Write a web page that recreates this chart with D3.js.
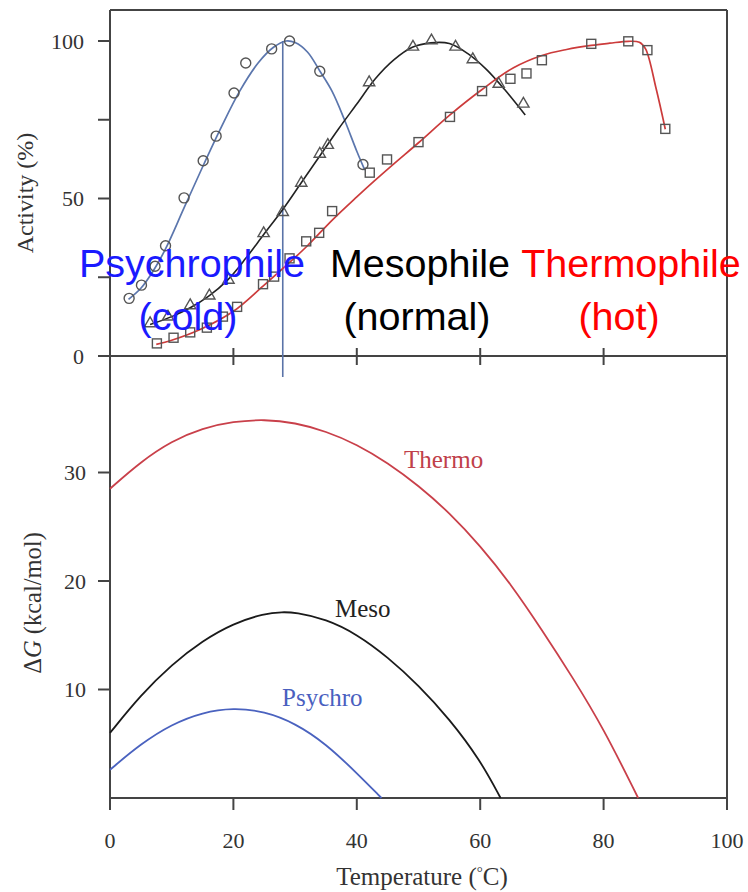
<!DOCTYPE html>
<html><head><meta charset="utf-8">
<script src="https://cdn.jsdelivr.net/npm/d3@7"></script>
<style>
html,body{margin:0;padding:0;background:#fff;}
svg{display:block;}
</style></head>
<body>
<svg id="chart" width="748" height="892"></svg>
<script>
// ---------- Data ----------
// Top panel: measured activity (%) vs temperature (°C)
const psychroT = [3.1, 5.1, 7.3, 9.0, 12.0, 15.1, 17.2, 20.1, 22.0, 26.2, 29.1, 34.0, 41.0];
const psychroA = [18.3, 22.5, 28.5, 35.0, 50.2, 62.0, 69.8, 83.5, 93.0, 97.5, 100.0, 90.4, 60.8];
const mesoT = [6.5, 9.4, 13.0, 16.1, 19.2, 24.9, 28.0, 31.0, 34.0, 35.3, 42.0, 49.1, 52.1, 56.0, 58.8, 63.0, 67.0];
const mesoA = [10.5, 12.6, 16.2, 19.3, 24.3, 39.1, 45.8, 55.1, 64.3, 67.1, 87.0, 98.3, 100.3, 98.3, 94.3, 86.5, 80.2];
const thermoT = [7.6, 10.3, 13.0, 15.7, 18.3, 20.6, 24.8, 26.6, 29.1, 31.8, 33.9, 36.0, 42.1, 44.9, 50.0, 55.1, 60.3, 64.9, 67.5, 70.0, 78.0, 84.0, 87.1, 90.0];
const thermoA = [4.0, 5.8, 7.5, 9.0, 12.5, 15.6, 22.8, 25.2, 31.0, 36.4, 39.1, 46.0, 58.2, 62.4, 67.9, 75.9, 84.1, 88.0, 89.7, 93.9, 99.1, 99.9, 97.1, 72.1];

// Top panel: fitted curves
const psychroFitT = [3, 5, 7, 9, 12, 15, 18, 21, 24, 26.5, 28.5, 30, 32, 34, 36, 38, 40, 41.3];
const psychroFitA = [18, 21.5, 27, 34, 47, 60, 72.5, 84, 93, 98, 100, 99.5, 96.5, 90.5, 84, 75, 65, 59];
const mesoFitT = [6.5, 10, 13, 16, 19, 22, 25, 28, 31, 34, 37, 40, 43, 46, 49, 52, 55, 58, 61, 64, 67.3];
const mesoFitA = [10, 12.5, 15.3, 19, 24, 31, 38.8, 46.5, 55, 63.5, 72, 80, 88, 94, 98, 99.4, 99.2, 96, 91, 84.5, 76.5];
const thermoFitT = [7.5, 10, 14.6, 20, 24.8, 29.1, 32, 36.1, 40, 42.8, 46, 50, 55.2, 60.3, 65.4, 70, 74, 78, 81, 84, 85.8, 86.8, 88.5, 90];
const thermoFitA = [3.7, 5.0, 8.4, 14.2, 22.2, 29.7, 35, 43.3, 50.5, 55.5, 61, 67.7, 76.7, 84.6, 91.5, 95.4, 97.3, 98.6, 99.3, 99.9, 99.6, 97.5, 85, 72];

const optimumPsychroT = 28;

// Bottom panel: stability ΔG (kcal/mol) vs temperature
const dgThermoT = [0, 5, 10, 15, 20, 25, 30, 35, 40, 45, 50, 55, 60, 65, 70, 75, 80, 85.6];
const dgThermo  = [28.5, 31.0, 32.9, 34.1, 34.7, 34.9, 34.6, 33.8, 32.6, 30.9, 28.8, 26.3, 23.25, 19.7, 15.5, 11.1, 6.4, 0];
const dgMesoT = [0, 5, 10, 15, 20, 25, 28, 30, 35, 40, 45, 50, 55, 60, 63.3];
const dgMeso  = [6.0, 9.5, 12.3, 14.5, 16.1, 17.0, 17.15, 17.1, 16.5, 15.1, 13.0, 10.4, 7.3, 3.5, 0];
const dgPsychroT = [0, 5, 10, 15, 20, 25, 30, 35, 40, 44];
const dgPsychro  = [2.6, 5.0, 6.8, 7.9, 8.3, 8.0, 6.9, 5.0, 2.3, 0];

// Axis ticks / labels
const xTicks = [0, 20, 40, 60, 80, 100];
const topYTicks = [0, 25, 50, 75, 100];
const topYLabels = [0, 50, 100];
const botYTicks = [10, 20, 30];

// ---------- Drawing ----------
const svg = d3.select("#chart");
const serif = "'Liberation Serif', 'DejaVu Serif', serif";
const sans = "'Liberation Sans', Arial, sans-serif";
const axisCol = "#444";

const x = d3.scaleLinear().domain([0, 100]).range([110, 727]);
const yTop = d3.scaleLinear().domain([0, 100]).range([356, 41]);
const yBot = d3.scaleLinear().domain([0, 10]).range([798, 689.5]);

// Frame lines
const frame = svg.append("g").attr("stroke", axisCol).attr("stroke-width", 2).attr("fill", "none");
frame.append("line").attr("x1", x(0)).attr("x2", x(0)).attr("y1", 10).attr("y2", 810);
frame.append("line").attr("x1", x(100)).attr("x2", x(100)).attr("y1", 10).attr("y2", 810);
frame.append("line").attr("x1", x(0)).attr("x2", x(100)).attr("y1", 10).attr("y2", 10);
frame.append("line").attr("x1", 98).attr("x2", x(100)).attr("y1", yTop(0)).attr("y2", yTop(0));
frame.append("line").attr("x1", x(0)).attr("x2", x(100)).attr("y1", yBot(0)).attr("y2", yBot(0));

// Top panel x ticks (crossing)
frame.selectAll(".tx").data(xTicks.filter(d => d > 0 && d < 100)).enter().append("line")
  .attr("x1", d => x(d)).attr("x2", d => x(d)).attr("y1", yTop(0) - 8).attr("y2", yTop(0) + 9);
// Top y ticks
frame.selectAll(".ty").data(topYTicks).enter().append("line")
  .attr("x1", 98).attr("x2", x(0)).attr("y1", d => yTop(d)).attr("y2", d => yTop(d));
// Bottom x ticks
frame.selectAll(".bx").data(xTicks).enter().append("line")
  .attr("x1", d => x(d)).attr("x2", d => x(d)).attr("y1", yBot(0)).attr("y2", yBot(0) + 12);
// Bottom y ticks
frame.selectAll(".by").data(botYTicks).enter().append("line")
  .attr("x1", 98).attr("x2", x(0)).attr("y1", d => yBot(d)).attr("y2", d => yBot(d));

// Tick labels
const lab = svg.append("g").attr("font-family", serif).attr("font-size", 22).attr("fill", "#333");
lab.selectAll(".lt").data(topYLabels).enter().append("text")
  .attr("x", 84).attr("y", d => yTop(d)).attr("dy", "0.35em").attr("text-anchor", "end").text(d => d);
lab.selectAll(".lb").data(botYTicks).enter().append("text")
  .attr("x", 86).attr("y", d => yBot(d)).attr("dy", "0.35em").attr("text-anchor", "end").text(d => d);
lab.selectAll(".lx").data(xTicks).enter().append("text")
  .attr("x", d => x(d)).attr("y", 848).attr("text-anchor", "middle").text(d => d);

// Axis titles
svg.append("text").attr("font-family", serif).attr("font-size", 24).attr("fill", "#333")
  .attr("transform", "translate(33,193) rotate(-90)").attr("text-anchor", "middle").text("Activity (%)");
const dgT = svg.append("text").attr("font-family", serif).attr("font-size", 24.5).attr("fill", "#333")
  .attr("transform", "translate(41,603) rotate(-90)").attr("text-anchor", "middle");
dgT.append("tspan").text("Δ");
dgT.append("tspan").attr("font-style", "italic").text("G");
dgT.append("tspan").text(" (kcal/mol)");
const xt = svg.append("text").attr("font-family", serif).attr("font-size", 25).attr("fill", "#333")
  .attr("x", 422).attr("y", 885).attr("text-anchor", "middle");
xt.append("tspan").text("Temperature (");
xt.append("tspan").attr("font-size", 15).attr("dy", -8).text("°");
xt.append("tspan").attr("dy", 8).text("C)");

// Vertical optimum line
svg.append("line").attr("x1", x(optimumPsychroT)).attr("x2", x(optimumPsychroT))
  .attr("y1", yTop(100)).attr("y2", 377).attr("stroke", "#5a73a8").attr("stroke-width", 1.6);

// Fit curves (top)
const zip = (a, b) => a.map((v, i) => [v, b[i]]);
const lineTop = d3.line().x(d => x(d[0])).y(d => yTop(d[1])).curve(d3.curveCatmullRom.alpha(0.5));
svg.append("path").attr("d", lineTop(zip(psychroFitT, psychroFitA))).attr("fill", "none").attr("stroke", "#5b76ad").attr("stroke-width", 1.7);
svg.append("path").attr("d", lineTop(zip(mesoFitT, mesoFitA))).attr("fill", "none").attr("stroke", "#222").attr("stroke-width", 1.6);
svg.append("path").attr("d", lineTop(zip(thermoFitT, thermoFitA))).attr("fill", "none").attr("stroke", "#cc3b3b").attr("stroke-width", 1.7);

// Markers
const mk = svg.append("g").attr("fill", "none").attr("stroke", "#555").attr("stroke-width", 1.4);
mk.selectAll(".c").data(zip(psychroT, psychroA)).enter().append("circle")
  .attr("cx", d => x(d[0])).attr("cy", d => yTop(d[1])).attr("r", 5);
const tri = d3.symbol().type(d3.symbolTriangle).size(55);
mk.selectAll(".t").data(zip(mesoT, mesoA)).enter().append("path")
  .attr("d", tri).attr("transform", d => `translate(${x(d[0])},${yTop(d[1]) + 0.5})`);
mk.selectAll(".s").data(zip(thermoT, thermoA)).enter().append("rect")
  .attr("x", d => x(d[0]) - 4.5).attr("y", d => yTop(d[1]) - 4.5).attr("width", 9).attr("height", 9);

// Big labels
const big = svg.append("g").attr("font-family", sans).attr("font-size", 39.5).attr("text-anchor", "middle");
big.append("text").attr("x", 192).attr("y", 277).attr("fill", "#1a1aff").text("Psychrophile");
big.append("text").attr("x", 188).attr("y", 330).attr("fill", "#1a1aff").text("(cold)");
big.append("text").attr("x", 420).attr("y", 277).attr("fill", "#000").text("Mesophile");
big.append("text").attr("x", 417).attr("y", 330).attr("fill", "#000").text("(normal)");
big.append("text").attr("x", 631).attr("y", 277).attr("fill", "#ff0000").text("Thermophile");
big.append("text").attr("x", 619).attr("y", 330).attr("fill", "#ff0000").text("(hot)");

// Bottom curves
const lineBot = d3.line().x(d => x(d[0])).y(d => yBot(d[1])).curve(d3.curveBasis);
svg.append("path").attr("d", lineBot(zip(dgThermoT, dgThermo))).attr("fill", "none").attr("stroke", "#c9404a").attr("stroke-width", 1.8);
svg.append("path").attr("d", lineBot(zip(dgMesoT, dgMeso))).attr("fill", "none").attr("stroke", "#1a1a1a").attr("stroke-width", 1.8);
svg.append("path").attr("d", lineBot(zip(dgPsychroT, dgPsychro))).attr("fill", "none").attr("stroke", "#4a62bf").attr("stroke-width", 1.8);

// Curve labels
const cl = svg.append("g").attr("font-family", serif).attr("font-size", 25);
cl.append("text").attr("x", 404).attr("y", 468).attr("fill", "#c0404a").text("Thermo");
cl.append("text").attr("x", 335).attr("y", 617).attr("fill", "#222").text("Meso");
cl.append("text").attr("x", 282).attr("y", 706).attr("fill", "#4a5fbf").text("Psychro");
</script>
</body></html>
